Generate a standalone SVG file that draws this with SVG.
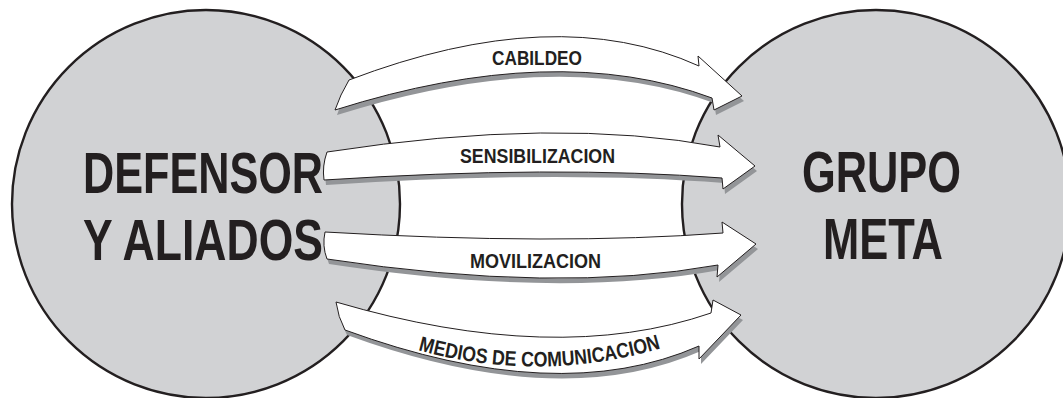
<svg xmlns="http://www.w3.org/2000/svg" width="1063" height="398" viewBox="0 0 1063 398">
<style>
.circle{fill:#d1d2d4;stroke:#231f20;stroke-width:2.4}
.big{font-family:"Liberation Sans",Arial,sans-serif;font-weight:bold;font-size:58px;fill:#231f20}
.lbl{font-family:"Liberation Sans",Arial,sans-serif;font-weight:bold;font-size:21px;fill:#231f20}
.body{fill:#ffffff;stroke:#231f20;stroke-width:1;stroke-linejoin:miter}
.shadow{fill:#939598}
</style>
<defs>
<path id="p-cab" d="M349 80 Q556 1 699 66 L698 56 L742 96 L714 110 L712 98 Q556 40 335 110 Q340 95 349 80 Z"/>
<path id="p-sen" d="M327 152 Q557 116.5 720 147 L718 135 L755 166 L723 189 L722 178 Q556 165 324 180 Q322 166 327 152 Z"/>
<path id="p-mov" d="M325 232 Q556 245.5 723 233 L722 222 L756 244 L717 277 L718 265 Q557 294 327 259 Q322 246 325 232 Z"/>
<path id="p-med" d="M336 302 Q556 366.5 711 313 L713 300 L741 315 L699 359 L699 346 Q558 408 345 330 Q338 317 336 302 Z"/>
<path id="arc-med" d="M417 350 Q540 384 662 348"/>
</defs>
<g id="node-defensor">
<circle class="circle" cx="206" cy="204" r="194"/>
<text class="big" x="203" y="193" text-anchor="middle" textLength="240" lengthAdjust="spacingAndGlyphs">DEFENSOR</text>
<text class="big" x="203" y="260" text-anchor="middle" textLength="240" lengthAdjust="spacingAndGlyphs">Y ALIADOS</text>
</g>
<g id="node-grupo">
<circle class="circle" cx="876" cy="204" r="194"/>
<text class="big" x="881.5" y="192" text-anchor="middle" textLength="159" lengthAdjust="spacingAndGlyphs">GRUPO</text>
<text class="big" x="883" y="259" text-anchor="middle" textLength="120" lengthAdjust="spacingAndGlyphs">META</text>
</g>
<g id="connectors">
<g id="arrow-cabildeo">
<use href="#p-cab" class="shadow" transform="translate(2,5)"/>
<use href="#p-cab" class="body"/>
<text class="lbl" x="537" y="65" text-anchor="middle" textLength="90" lengthAdjust="spacingAndGlyphs">CABILDEO</text>
</g>
<g id="arrow-sensibilizacion">
<use href="#p-sen" class="shadow" transform="translate(2,5)"/>
<use href="#p-sen" class="body"/>
<text class="lbl" x="537.5" y="163" text-anchor="middle" textLength="155" lengthAdjust="spacingAndGlyphs">SENSIBILIZACION</text>
</g>
<g id="arrow-movilizacion">
<use href="#p-mov" class="shadow" transform="translate(2,5)"/>
<use href="#p-mov" class="body"/>
<text class="lbl" x="535.5" y="268" text-anchor="middle" textLength="131" lengthAdjust="spacingAndGlyphs">MOVILIZACION</text>
</g>
<g id="arrow-medios">
<use href="#p-med" class="shadow" transform="translate(2,5)"/>
<use href="#p-med" class="body"/>
<text class="lbl"><textPath href="#arc-med" startOffset="50%" text-anchor="middle" textLength="246" lengthAdjust="spacingAndGlyphs">MEDIOS DE COMUNICACION</textPath></text>
</g>
</g>
</svg>
